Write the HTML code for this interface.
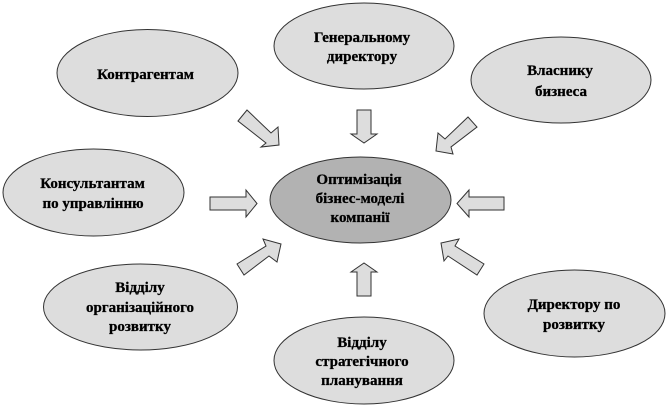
<!DOCTYPE html>
<html><head><meta charset="utf-8"><style>
html,body{margin:0;padding:0;background:#fff}
svg{display:block}
text{font-family:"Liberation Serif",serif;font-weight:bold;font-size:15px;text-anchor:middle;fill:#000;stroke:#000;stroke-width:.3}
</style></head><body>
<svg width="667" height="407" viewBox="0 0 667 407" xmlns="http://www.w3.org/2000/svg">
<defs><filter id="b" x="-5%" y="-5%" width="110%" height="110%"><feGaussianBlur stdDeviation="0.35"/></filter></defs>
<g filter="url(#b)">
<g fill="#ddd" stroke="#333" stroke-width="1">
<ellipse cx="147.5" cy="73" rx="90.5" ry="43.5"/>
<ellipse cx="364" cy="46" rx="90" ry="43"/>
<ellipse cx="561" cy="80" rx="90" ry="43"/>
<ellipse cx="93.5" cy="192.5" rx="90.5" ry="43.5"/>
<ellipse cx="360.5" cy="200" rx="90.5" ry="43" fill="#b2b2b2"/>
<ellipse cx="140.5" cy="307" rx="97" ry="43"/>
<ellipse cx="364" cy="360.5" rx="90" ry="43.5"/>
<ellipse cx="574.5" cy="313.5" rx="90.5" ry="43.5"/>
<polygon points="238,121 247,110 271,133 278,127 279,145 261,147 266,143"/>
<polygon points="357,110 371,110 371,134 377,134 364,143 351,134 357,134"/>
<polygon points="468,117 477,127 451,147 453,154 436,151 438,133 445,139"/>
<polygon points="210,197 246,197 246,190 257,203.5 246,217 246,210 210,210"/>
<polygon points="504,197 469,197 469,190 457,203.5 469,217 469,210 504,210"/>
<polygon points="237,264 244,275 269,256 277,262 281,244 263,239 266,246"/>
<polygon points="357,296 371,296 371,272 377,272 364,263 351,272 357,272"/>
<polygon points="484,264 477,275 448,256 444,261 441,243 459,239 455,246"/>
</g>
<text x="145.5" y="79">Контрагентам</text>
<text x="362" y="42">Генеральному</text>
<text x="362" y="61">директору</text>
<text x="560" y="75">Власнику</text>
<text x="561" y="96">бизнеса</text>
<text x="92.5" y="188">Консультантам</text>
<text x="93" y="208">по управлінню</text>
<text x="359" y="184">Оптимізація</text>
<text x="360" y="203">бізнес-моделі</text>
<text x="360" y="222">компанії</text>
<text x="140" y="292">Відділу</text>
<text x="140" y="312">організаційного</text>
<text x="140" y="331">розвитку</text>
<text x="362" y="347">Відділу</text>
<text x="362" y="366">стратегічного</text>
<text x="362" y="385">планування</text>
<text x="574" y="309">Директору по</text>
<text x="574" y="329">розвитку</text>
</g>
</svg>
</body></html>
